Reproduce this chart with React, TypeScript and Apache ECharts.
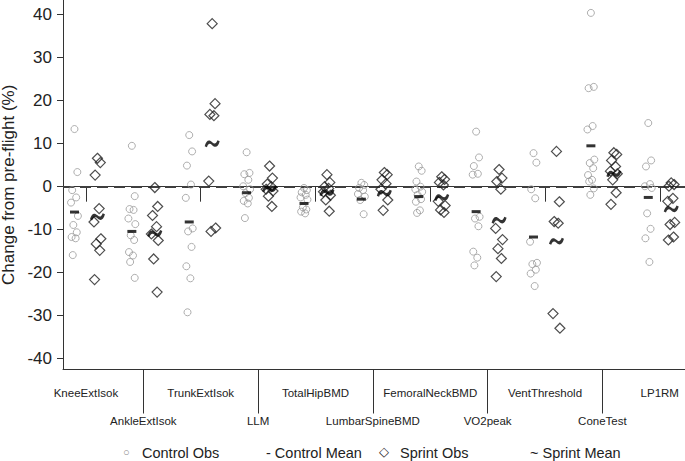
import { useEffect, useRef } from "react";
import * as echarts from "echarts";

// outcome measures along the x axis
const CATEGORIES = [
  "KneeExtIsok",
  "AnkleExtIsok",
  "TrunkExtIsok",
  "LLM",
  "TotalHipBMD",
  "LumbarSpineBMD",
  "FemoralNeckBMD",
  "VO2peak",
  "VentThreshold",
  "ConeTest",
  "LP1RM",
];

// % change from pre-flight, one list per measure
const CONTROL_OBS = [
  [13.4, 3.4, -0.8, -2.5, -3.7, -6.8, -8.9, -10.6, -11.7, -12.0, -15.9],
  [9.5, -2.2, -5.2, -5.4, -7.4, -8.7, -11.3, -12.4, -15.2, -16.0, -17.5, -21.2],
  [12.0, 8.2, 4.9, 0.5, -2.6, -9.7, -10.4, -14.0, -18.5, -21.3, -29.2],
  [8.0, 3.2, 2.9, 1.6, 0.1, -0.6, -1.5, -2.6, -3.3, -3.9, -7.3],
  [-0.3, -0.8, -1.3, -1.9, -2.5, -3.0, -4.8, -5.3, -5.8, -6.2],
  [0.9, 0.4, -0.3, -0.8, -1.7, -2.3, -3.1, -6.4],
  [4.7, 3.7, 1.2, 0.0, -0.6, -1.2, -1.9, -2.9, -3.5, -5.5, -6.1],
  [12.8, 6.8, 4.8, 3.0, 2.8, -7.0, -7.4, -9.2, -15.1, -16.5, -18.3],
  [7.8, 5.6, -0.6, -2.7, -12.8, -17.7, -18.0, -19.3, -20.2, -23.1],
  [40.4, 23.2, 22.9, 14.1, 13.3, 6.3, 5.5, 4.3, 2.7, 1.6, 1.2, -0.4, -1.9],
  [14.8, 6.1, 4.7, 0.6, 0.1, -0.3, -6.2, -9.8, -12.0, -17.5],
];

const SPRINT_OBS = [
  [6.6, 5.6, 2.7, -5.1, -8.2, -12.1, -13.3, -14.8, -21.6],
  [-0.2, -4.6, -6.7, -9.3, -11.0, -12.5, -16.8, -24.5],
  [37.9, 19.3, 16.8, 16.5, 1.3, -9.6, -10.4],
  [4.8, 2.0, 0.6, 0.0, -0.6, -1.0, -2.2, -4.6],
  [2.8, 1.0, 0.0, -0.4, -1.2, -2.0, -3.1, -5.7],
  [3.3, 2.8, 1.6, 0.7, -0.6, -3.1, -5.5],
  [2.3, 1.7, 1.0, 0.4, -3.4, -4.4, -5.4, -6.0],
  [4.0, 2.0, 1.2, -0.6, -9.7, -12.3, -14.4, -16.7, -20.9],
  [8.2, -3.5, -8.1, -8.5, -29.5, -32.9],
  [7.9, 7.5, 6.1, 4.7, 3.6, 3.0, 1.6, -1.4, -4.1],
  [0.9, 0.5, 0.1, -2.7, -3.4, -8.3, -8.8, -11.7, -12.4],
];

const CONTROL_MEAN = [-5.9, -10.4, -8.2, -1.4, -3.9, -2.9, -2.3, -5.8, -11.7, 9.5, -2.5];
const SPRINT_MEAN = [-7.0, -10.9, 10.0, -0.5, -1.4, -1.5, -2.5, -7.8, -12.7, 3.0, -5.2];

const Y_TICKS = [-40, -30, -20, -10, 0, 10, 20, 30, 40];
const ODD_TICKS = [1, 3, 5, 7, 9, 11];
const EVEN_TICKS = [2, 4, 6, 8, 10];

const FONT = "'Liberation Sans', Arial, sans-serif";

// small fixed spread so stacked markers stay visible
const JITTER = [0, 0.05, -0.04, 0.03, -0.06, 0.06, -0.02, 0.04, -0.05, 0.02, -0.03, 0.05, -0.01];

const TILDE =
  "path://M0,7 C2,1 6,0 10,3 C13,5 15,5 17,1 L20,2 C18,8 14,9 10,6 C7,4 5,4 3,8 Z";

export default function App() {
  const chartRef = useRef<HTMLDivElement>(null);

  useEffect(() => {
    if (!chartRef.current) return;
    const chart = echarts.init(chartRef.current, null, { renderer: "svg" });

    const spread = (lists: number[][], offset: number) =>
      lists.flatMap((vals, ci) =>
        vals.map((v, i) => [ci + 1 + offset + JITTER[i % JITTER.length], v])
      );

    const xBase = {
      type: "value",
      min: 0.6,
      max: 11.44,
      position: "bottom",
      splitLine: { show: false },
      axisLine: { show: true, lineStyle: { color: "#333", width: 1 } },
    };

    const option = {
      animation: false,
      grid: {
        left: 63,
        right: 0,
        top: 0,
        bottom: 91.5,
        containLabel: false,
        outerBoundsMode: "none",
      },
      xAxis: [
        {
          ...xBase,
          axisTick: {
            show: true,
            customValues: ODD_TICKS,
            length: 15,
            lineStyle: { color: "#333" },
          },
          axisLabel: {
            customValues: ODD_TICKS,
            formatter: (v: number) => CATEGORIES[Math.round(v) - 1],
            margin: 17,
            fontSize: 11.5,
            fontFamily: FONT,
            color: "#222",
          },
        },
        {
          ...xBase,
          axisTick: {
            show: true,
            customValues: EVEN_TICKS,
            length: 44,
            lineStyle: { color: "#333" },
          },
          axisLabel: {
            customValues: EVEN_TICKS,
            formatter: (v: number) => CATEGORIES[Math.round(v) - 1],
            margin: 45,
            fontSize: 11.5,
            fontFamily: FONT,
            color: "#222",
          },
        },
      ],
      yAxis: {
        type: "value",
        min: -42.5,
        max: 43.4,
        name: "Change from pre-flight (%)",
        nameLocation: "middle",
        nameGap: 45,
        nameTextStyle: { fontSize: 17, fontFamily: FONT, color: "#222" },
        splitLine: { show: false },
        axisLine: { show: true, lineStyle: { color: "#333", width: 1 } },
        axisTick: { show: true, customValues: Y_TICKS, length: 6, lineStyle: { color: "#333" } },
        axisLabel: {
          customValues: Y_TICKS,
          margin: 11,
          fontSize: 17,
          fontFamily: FONT,
          color: "#222",
        },
      },
      series: [
        {
          name: "Control Obs",
          type: "scatter",
          xAxisIndex: 0,
          symbol: "circle",
          symbolSize: 7,
          itemStyle: { color: "rgba(255,255,255,0)", borderColor: "#9a9a9a", borderWidth: 1 },
          data: spread(CONTROL_OBS, -0.2),
          z: 3,
          markLine: {
            silent: true,
            symbol: "none",
            label: { show: false },
            lineStyle: { color: "#3f3f3f", width: 2.2, type: [11, 6] },
            data: [{ yAxis: 0 }],
            z: 1,
          },
        },
        {
          name: "Sprint Obs",
          type: "scatter",
          xAxisIndex: 0,
          symbol: "diamond",
          symbolSize: 10,
          itemStyle: { color: "rgba(255,255,255,0)", borderColor: "#222", borderWidth: 1.2 },
          data: spread(SPRINT_OBS, 0.2),
          z: 3,
        },
        {
          name: "Control Mean",
          type: "scatter",
          xAxisIndex: 0,
          symbol: "rect",
          symbolSize: [9, 3],
          itemStyle: { color: "#000" },
          data: CONTROL_MEAN.map((v, i) => [i + 1 - 0.2, v]),
          z: 4,
        },
        {
          name: "Sprint Mean",
          type: "scatter",
          xAxisIndex: 0,
          symbol: TILDE,
          symbolSize: [15, 7],
          itemStyle: { color: "#000" },
          data: SPRINT_MEAN.map((v, i) => [i + 1 + 0.2, v]),
          z: 4,
        },
      ],
      graphic: [
        { type: "text", x: 123, y: 446, style: { text: "○", fontSize: 11, fontFamily: FONT, fill: "#888" } },
        { type: "text", x: 142, y: 445, style: { text: "Control Obs", fontSize: 14.5, fontFamily: FONT, fill: "#222" } },
        { type: "text", x: 266, y: 445, style: { text: "- Control Mean", fontSize: 14.5, fontFamily: FONT, fill: "#222" } },
        { type: "text", x: 379, y: 445, style: { text: "◇", fontSize: 13, fontFamily: FONT, fill: "#222" } },
        { type: "text", x: 400, y: 445, style: { text: "Sprint Obs", fontSize: 14.5, fontFamily: FONT, fill: "#222" } },
        { type: "text", x: 530, y: 445, style: { text: "~ Sprint Mean", fontSize: 14.5, fontFamily: FONT, fill: "#222" } },
      ],
    };

    chart.setOption(option as any);

    return () => {
      chart.dispose();
    };
  }, []);

  return (
    <div
      ref={chartRef}
      style={{
        position: "fixed",
        left: 0,
        top: 0,
        width: "685px",
        height: "461px",
        background: "#fff",
      }}
    />
  );
}
